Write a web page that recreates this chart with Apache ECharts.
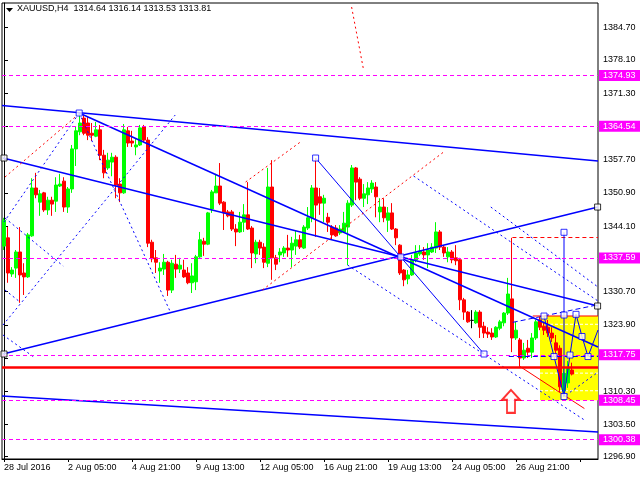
<!DOCTYPE html>
<html><head><meta charset="utf-8">
<script src="https://cdn.jsdelivr.net/npm/echarts@6/dist/echarts.min.js"></script>
<style>html,body{margin:0;padding:0;background:#fff}#c{width:640px;height:480px}</style>
</head><body><div id="c"></div>
<script>
const symbolName = 'XAUUSD,H4';
const opens = [
1340.0,1341.7,1334.3,1335.5,1338.8,1334.5,1333.7,1342.1,1351.9,1349.0,
1350.9,1347.4,1349.4,1349.2,1352.3,1353.3,1348.0,1351.7,1359.9,1363.4,
1366.2,1365.2,1363.1,1362.5,1363.8,1358.6,1356.0,1357.2,1358.2,1352.7,
1350.9,1363.6,1361.5,1360.3,1360.7,1364.4,1361.7,1340.8,1337.6,1334.9,
1335.3,1336.7,1331.0,1336.3,1335.3,1335.1,1334.5,1332.5,1332.7,1337.8,
1341.0,1340.4,1347.6,1350.9,1352.3,1349.0,1347.0,1347.0,1343.5,1342.9,
1344.9,1346.4,1343.7,1338.4,1340.8,1339.8,1336.5,1352.1,1337.6,1338.2,
1338.6,1339.6,1339.2,1340.0,1341.3,1339.6,1343.7,1345.8,1351.9,1350.1,
1348.8,1345.9,1343.9,1343.7,1342.7,1342.9,1343.9,1348.4,1356.0,1353.7,
1349.8,1350.5,1351.7,1352.1,1347.0,1348.0,1345.3,1346.8,1343.5,1340.2,
1335.1,1333.3,1334.1,1337.2,1338.4,1338.8,1338.2,1338.8,1339.6,1342.9,
1339.8,1337.8,1338.8,1337.6,1337.2,1329.0,1326.5,1324.8,1324.3,1326.5,
1323.6,1322.4,1322.2,1321.4,1323.2,1324.3,1326.3,1329.2,1321.2,1320.8,
1317.1,1319.1,1318.3,1321.2,1324.9,1323.6,1323.4,1322.2,1320.2,1319.1,
1310.4,1312.0,1314.64];
const closes = [
1345.3,1334.5,1335.1,1338.8,1334.1,1333.7,1342.3,1351.9,1350.5,1350.7,
1347.4,1349.4,1348.6,1352.5,1352.7,1348.0,1351.7,1359.9,1363.6,1365.2,
1363.1,1362.7,1362.7,1363.8,1358.6,1355.0,1357.6,1358.2,1352.5,1350.9,
1363.8,1361.1,1361.1,1360.7,1364.2,1361.7,1340.6,1337.4,1336.7,1335.5,
1336.7,1331.0,1336.5,1335.3,1336.1,1333.7,1332.5,1333.9,1337.8,1341.3,
1340.4,1346.8,1351.1,1352.3,1348.8,1346.8,1346.2,1343.5,1342.9,1344.9,
1346.4,1343.5,1338.6,1340.8,1339.6,1336.7,1352.1,1337.6,1336.3,1338.8,
1339.6,1339.2,1340.6,1341.3,1339.8,1343.9,1345.8,1351.9,1348.4,1348.8,
1349.8,1344.9,1342.3,1342.1,1343.5,1344.7,1348.8,1356.0,1353.1,1349.8,
1350.7,1351.9,1352.9,1350.1,1348.0,1345.8,1346.8,1343.5,1341.7,1334.5,
1333.1,1334.1,1337.2,1338.6,1339.0,1338.2,1339.2,1339.8,1342.9,1339.8,
1338.6,1338.8,1337.2,1337.0,1329.0,1326.5,1324.5,1324.8,1326.5,1323.4,
1322.2,1322.0,1321.4,1323.4,1324.5,1326.3,1330.2,1321.2,1322.8,1317.1,
1318.7,1318.3,1321.2,1324.5,1323.4,1322.8,1322.2,1321.2,1318.7,1311.2,
1314.0,1315.1,1313.81];
const lows = [
1339.2,1332.5,1333.7,1333.5,1328.4,1330.0,1333.5,1341.9,1349.8,1346.2,
1347.0,1346.4,1346.2,1347.0,1352.1,1347.0,1346.8,1350.9,1356.4,1362.7,
1362.7,1361.7,1361.5,1362.3,1357.6,1353.9,1355.6,1354.3,1349.8,1349.0,
1350.7,1360.3,1360.3,1358.6,1360.5,1361.3,1339.8,1336.7,1334.5,1332.5,
1334.1,1329.8,1330.4,1333.5,1334.5,1333.5,1332.2,1330.4,1331.0,1337.6,
1338.0,1340.2,1346.8,1350.9,1348.4,1343.3,1345.9,1343.1,1340.0,1342.7,
1342.9,1343.3,1335.5,1336.5,1338.2,1335.5,1335.7,1333.1,1335.1,1336.7,
1337.8,1337.8,1335.7,1338.2,1339.4,1339.4,1343.3,1344.9,1341.9,1346.4,
1344.9,1342.9,1341.3,1341.9,1342.3,1342.7,1336.1,1348.0,1349.4,1349.4,
1348.0,1348.6,1350.9,1345.9,1344.9,1344.9,1342.9,1343.3,1340.2,1334.1,
1331.8,1332.2,1333.9,1336.7,1338.0,1337.2,1335.5,1338.6,1338.6,1339.2,
1337.8,1336.7,1336.5,1336.1,1326.9,1324.9,1324.3,1323.2,1324.1,1321.2,
1321.2,1321.2,1320.8,1321.2,1322.8,1323.6,1325.9,1318.3,1320.8,1315.3,
1316.7,1317.1,1317.1,1320.8,1322.8,1321.8,1321.4,1320.4,1317.3,1310.1,
1309.1,1311.0,1313.53];
const highs = [
1345.8,1343.9,1335.7,1339.2,1343.9,1336.5,1342.7,1353.9,1355.0,1351.5,
1351.1,1350.1,1350.1,1354.1,1354.8,1354.1,1352.1,1360.7,1364.4,1367.2,
1366.8,1366.4,1365.2,1365.4,1364.8,1359.7,1359.1,1359.1,1358.6,1353.9,
1365.0,1364.4,1363.6,1361.9,1364.8,1364.8,1362.3,1341.3,1339.2,1336.7,
1338.4,1337.0,1337.2,1338.2,1337.6,1337.2,1335.7,1336.5,1338.2,1342.9,
1341.7,1347.0,1351.5,1354.8,1357.0,1349.2,1347.4,1347.4,1344.5,1347.0,
1348.6,1353.1,1344.1,1341.3,1341.3,1340.6,1356.0,1357.6,1338.2,1339.6,
1340.0,1342.3,1341.9,1343.1,1342.3,1344.3,1348.0,1352.5,1358.0,1351.9,
1350.5,1346.8,1344.3,1344.3,1344.3,1347.0,1349.4,1356.6,1356.2,1354.1,
1352.7,1353.1,1353.5,1353.1,1349.8,1349.8,1348.0,1348.8,1343.7,1340.4,
1335.3,1335.1,1338.2,1340.2,1340.2,1339.8,1340.6,1340.6,1344.9,1343.3,
1340.2,1339.8,1339.2,1340.2,1337.6,1329.4,1326.7,1326.9,1326.9,1326.9,
1324.5,1323.4,1323.2,1323.6,1324.9,1326.5,1333.5,1341.7,1324.5,1321.2,
1320.2,1320.8,1322.2,1324.9,1325.5,1324.5,1324.9,1323.4,1321.8,1319.7,
1315.3,1316.5,1316.14];

const barSlots = 149;
const labelBars = [0,16,32,48,64,80,96,112,128];
const labelTexts = ['28 Jul 2016','2 Aug 05:00','4 Aug 21:00','9 Aug 13:00','12 Aug 05:00','16 Aug 21:00','19 Aug 13:00','24 Aug 05:00','26 Aug 21:00'];
const priceTicks = [1296.90,1303.50,1310.30,1317.10,1323.90,1330.70,1337.50,1344.10,1350.90,1357.70,1364.50,1371.30,1378.10,1384.70];
const levelPrices = [1374.93,1364.54,1337.59,1317.75,1308.45,1300.38];
const supportPrice = 1315.3;
const lastPrice = 1313.81;

// trend objects: [barFrom, priceFrom, barTo, priceTo]
const solidTrends = [
  [-0.5,1368.78,148.5,1357.41],
  [-0.25,1358.03,148.5,1327.74],
  [18.8,1367.24,148.5,1319.35],
  [-0.25,1317.92,148.5,1348.00],
  [-0.5,1309.32,148.5,1301.95]
];
const thinTrends = [[77.9,1358.03,120.0,1317.92]];
const dottedBlue = [
  [0,1344.93,18.8,1367.24],
  [0.25,1345.75,14.8,1335.93],
  [0.25,1331.02,4.0,1328.56],
  [-0.25,1323.85,42.8,1366.83],
  [-0.25,1321.81,7.8,1317.10],
  [18.8,1367.24,41.6,1326.51],
  [102.4,1354.35,148.5,1328.76],
  [121.7,1348.0,148.5,1331.63],
  [85.9,1336.13,145.5,1304.2],
  [140.5,1309.5,148.5,1314.2]
];
const dottedRed = [
  [0.25,1354.14,17.8,1366.42],
  [60.4,1353.12,74.1,1361.31],
  [64.6,1331.02,109.9,1359.26],
  [86.9,1388.94,89.9,1376.04]
];
const dashedBlue = [
  [127.2,1324.4,148.5,1328.0],
  [126.2,1317.41,148.5,1317.41]
];
const dashedRed = [[127.1,1341.76,148.5,1341.76]];
const thinRed = [[129.0,1315.36,145.1,1306.76], [132.2,1325.7,148.5,1325.7]];
const zigzag = [[135,1325.69],[137.5,1317.40],[140,1309.22],[141.5,1317.71],[143,1326.04],[144.5,1321.50],[146,1317.40],[148.5,1322.83]];
const verticalLine = [[140,1342.83],[140,1309.22]];
const fibLevels = [1324.0,1314.0,1310.4];
const boxBars = [134, 148.5];
const boxPrices = [1325.7, 1308.45];
const blueSquares = [[18.8,1367.24],[77.9,1358.03],[99.2,1337.77],[120.0,1317.92],[135,1325.69],[137.5,1317.40],[140,1309.22],[141.5,1317.71],[143,1326.04],[144.5,1321.50],[146,1317.40],[140,1342.83],[140,1325.9]];
const blackSquares = [[0,1358.03],[148.4,1327.74],[0,1317.92],[148.4,1348.00]];
const arrowPoint = [126.75, 1308.2];

const FONT = "'Liberation Sans', Arial, sans-serif";
const cats = Array.from({length: barSlots}, (_, i) => {
  const k = labelBars.indexOf(i);
  return k >= 0 ? labelTexts[k] : '';
});
const candles = opens.map((o, i) => [o, closes[i], lows[i], highs[i]]);

function segs(list, color, width, type, z) {
  return list.map(s => ({
    type: 'line', xAxisIndex: 1, yAxisIndex: 0,
    data: [[s[0], s[1]], [s[2], s[3]]],
    symbol: 'none', silent: true, animation: false, z: z,
    lineStyle: { color: color, width: width, type: type }
  }));
}

const series = [];
// yellow box
series.push({
  type: 'line', xAxisIndex: 1, data: [], z: 1, silent: true, animation: false,
  markArea: { silent: true, animation: false,
    itemStyle: { color: '#ffff00', opacity: 1 },
    data: [[{ coord: [boxBars[0], boxPrices[0]] }, { coord: [boxBars[1], boxPrices[1]] }]] }
});
series.push(...segs(fibLevels.map(p => [boxBars[0], p, boxBars[1], p]), '#ffffff', 1, [3, 2], 2));
// candles
series.push({
  type: 'candlestick', xAxisIndex: 0, yAxisIndex: 0, data: candles, barWidth: 3, z: 3,
  animation: false, silent: true,
  itemStyle: { color: '#00ff00', color0: '#ff0000', borderColor: '#00ff00', borderColor0: '#ff0000',
    borderColorDoji: '#000000', borderWidth: 1 }
});
series.push(...segs(solidTrends, '#0000ff', 1.5, 'solid', 4));
series.push(...segs(thinTrends, '#0000ff', 1, 'solid', 4));
series.push(...segs(dottedBlue, '#0000ff', 1, [2, 3], 4));
series.push(...segs(dottedRed, '#ff0000', 1, [2, 3], 4));
series.push(...segs(dashedBlue, '#0000ff', 1, [5, 3], 4));
series.push(...segs(dashedRed, '#ff0000', 1, [4, 3], 4));
series.push(...segs(thinRed, '#ff0000', 1, 'solid', 4));
series.push({ type: 'line', xAxisIndex: 1, data: zigzag, symbol: 'none', z: 4, silent: true, animation: false,
  lineStyle: { color: '#0000ff', width: 1 } });
series.push({ type: 'line', xAxisIndex: 1, data: verticalLine, symbol: 'none', z: 4, silent: true, animation: false,
  lineStyle: { color: '#0000ff', width: 1 } });
series.push({ type: 'scatter', xAxisIndex: 1, data: blueSquares, symbol: 'rect', symbolSize: 6, z: 5, silent: true, animation: false,
  itemStyle: { color: '#ffffff', borderColor: '#0000ff', borderWidth: 1 } });
series.push({ type: 'scatter', xAxisIndex: 1, data: blackSquares, symbol: 'rect', symbolSize: 6, z: 5, silent: true, animation: false,
  itemStyle: { color: '#ffffff', borderColor: '#000000', borderWidth: 1 } });
series.push({ type: 'scatter', xAxisIndex: 1, data: [arrowPoint], z: 5, silent: true, animation: false,
  symbol: 'path://M9,0 L18,10 L13,10 L13,23 L5,23 L5,10 L0,10 Z', symbolSize: [18, 23],
  itemStyle: { color: '#ffffff', borderColor: '#ff0000', borderWidth: 2 } });
// horizontal levels
const boxLabel = (bg) => ({ show: true, position: 'end', distance: 1, backgroundColor: bg, color: '#ffffff',
  fontSize: 9, fontFamily: FONT, lineHeight: 11, padding: [0, 8, 0, 4] });
series.push({
  type: 'line', xAxisIndex: 1, data: [], z: 6, silent: true, animation: false,
  markLine: { silent: true, animation: false, symbol: ['none', 'none'],
    data: [
      ...levelPrices.map(v => ({ yAxis: v, lineStyle: { color: '#ff00ff', width: 1, type: [4, 3] },
        label: Object.assign(boxLabel('#ff00ff'), { formatter: v.toFixed(2) }) })),
      { yAxis: supportPrice, lineStyle: { color: '#ff0000', width: 2.5, type: 'solid' }, label: { show: false } },
      { yAxis: lastPrice, lineStyle: { width: 0, opacity: 0 },
        label: Object.assign(boxLabel('#000000'), { formatter: lastPrice.toFixed(2) }) }
    ] }
});

const chart = echarts.init(document.getElementById('c'), null, { renderer: 'canvas' });
chart.setOption({
  animation: false,
  backgroundColor: '#ffffff',
  title: { text: symbolName + '  ' + [opens[opens.length-1], highs[highs.length-1], lows[lows.length-1], closes[closes.length-1]].map(v => v.toFixed(2)).join(' '),
    left: 17, top: 4, padding: 0,
    textStyle: { fontSize: 9, fontWeight: 'normal', color: '#000', fontFamily: FONT } },
  graphic: [{ type: 'polygon', shape: { points: [[6, 8], [13, 8], [9.5, 12]] }, style: { fill: '#000' } }],
  grid: { left: 2, right: 42, top: 3, bottom: 21, show: true, borderColor: '#000', borderWidth: 1, backgroundColor: '#fff' },
  xAxis: [
    { type: 'category', data: cats, boundaryGap: true,
      axisLine: { show: true, lineStyle: { color: '#000', width: 1 } },
      axisTick: { show: true, alignWithLabel: true, interval: (i) => i % 16 === 0, length: 3, lineStyle: { color: '#000' } },
      axisLabel: { interval: (i) => i % 16 === 0, align: 'left', fontSize: 9, color: '#000', fontFamily: FONT, margin: 4 },
      splitLine: { show: false } },
    { type: 'value', min: -0.5, max: barSlots - 0.5, show: false }
  ],
  yAxis: [{ type: 'value', position: 'right', min: 1296.43, max: 1389.76, scale: true,
    splitLine: { show: false },
    axisLine: { show: true, lineStyle: { color: '#000' } },
    axisTick: { show: true, customValues: priceTicks, length: 4, lineStyle: { color: '#000' } },
    axisLabel: { customValues: priceTicks, formatter: (v) => v.toFixed(2), fontSize: 9, color: '#000', fontFamily: FONT, margin: 5 } }],
  series: series
});
</script>
</body></html>
